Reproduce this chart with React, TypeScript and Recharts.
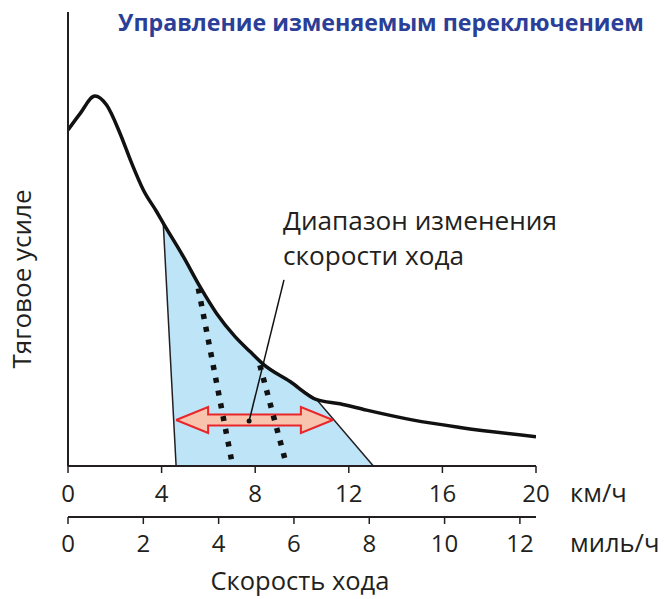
import React from "react";
import {
  ComposedChart,
  Line,
  Area,
  XAxis,
  YAxis,
  ReferenceLine,
  ReferenceDot,
} from "recharts";

// ---- data ----
const KM_TICKS = [0, 4, 8, 12, 16, 20];
const MPH_TICKS = [0, 2, 4, 6, 8, 10, 12];
const KM_PER_MILE = 1.609344;

// traction force curve (speed km/h, force arbitrary units)
const curveX = [0, 0.5, 1.15, 1.65, 2.22, 2.72, 3.22, 3.79, 4.07, 4.93, 5.64, 6.35, 7.14, 7.78, 8.35, 9.49, 10.63, 11.62, 12.76, 14.76, 16.75, 20];
const curveY = [74, 77.5, 81.5, 79.5, 73.3, 66.7, 60.8, 56.0, 53.5, 46.1, 39.5, 33.6, 28.5, 25.2, 22.4, 18.6, 14.6, 13.7, 12.3, 10.1, 8.5, 6.45];

// variable speed range region (polygon vertices, in drawing order)
const regionX = [4.62, 4.07, 4.93, 5.64, 6.35, 7.14, 7.78, 8.35, 9.49, 10.63, 13.05];
const regionY = [0, 53.5, 46.1, 39.5, 33.6, 28.5, 25.2, 22.4, 18.6, 14.6, 0];

// dotted shift lines
const shift1X = [5.57, 7.0];
const shift1Y = [39.1, 1.0];
const shift2X = [8.2, 9.35];
const shift2Y = [22.2, 0];

// range arrow (speed from .. to, at force level)
const arrowFrom = 4.62;
const arrowTo = 11.32;
const arrowLevel = 10.13;

// leader line of annotation
const leaderX = [9.23, 7.74];
const leaderY = [41.0, 9.9];

// second scale (mph) extent
const mphExtent = [0, 20 / KM_PER_MILE];

// ---- layout ----
const W = 664;
const H = 599;
const PLOT_LEFT = 68;
const PLOT_RIGHT = 536;
const PLOT_TOP = 12;
const PLOT_BOTTOM = 466;
const X_MAX = 20;
const Y_MAX = 100;
const PX_PER_X = (PLOT_RIGHT - PLOT_LEFT) / X_MAX;
const PX_PER_Y = (PLOT_BOTTOM - PLOT_TOP) / Y_MAX;

const HEAD_LEN = 32 / PX_PER_X;
const HEAD_HALF = 13 / PX_PER_Y;
const SHAFT_HALF = 5.5 / PX_PER_Y;

const FONT = "'Open Sans', 'Noto Sans', sans-serif";
const INK = "#231f20";

const curveData = curveX.map((x, i) => ({ x, y: curveY[i] }));
const regionData = regionX.map((x, i) => ({ x, y: regionY[i] }));
const shift1Data = shift1X.map((x, i) => ({ x, y: shift1Y[i] }));
const shift2Data = shift2X.map((x, i) => ({ x, y: shift2Y[i] }));
const leaderData = leaderX.map((x, i) => ({ x, y: leaderY[i] }));
const mphData = mphExtent.map((x) => ({ x, y: 0 }));
const arrowData = [
  { x: arrowFrom, r: [arrowLevel, arrowLevel] },
  { x: arrowFrom + HEAD_LEN, r: [arrowLevel - HEAD_HALF, arrowLevel + HEAD_HALF] },
  { x: arrowFrom + HEAD_LEN, r: [arrowLevel - SHAFT_HALF, arrowLevel + SHAFT_HALF] },
  { x: arrowTo - HEAD_LEN, r: [arrowLevel - SHAFT_HALF, arrowLevel + SHAFT_HALF] },
  { x: arrowTo - HEAD_LEN, r: [arrowLevel - HEAD_HALF, arrowLevel + HEAD_HALF] },
  { x: arrowTo, r: [arrowLevel, arrowLevel] },
];

const tickStyle = { fontSize: 24, fill: INK, fontFamily: FONT };

export default function App() {
  return (
    <div style={{ position: "absolute", left: 0, top: 0 }}>
      <ComposedChart
        width={W}
        height={H}
        margin={{ top: PLOT_TOP, right: W - PLOT_RIGHT, left: PLOT_LEFT, bottom: 42 }}
      >
        <XAxis
          xAxisId="km"
          dataKey="x"
          type="number"
          domain={[0, X_MAX]}
          ticks={KM_TICKS}
          allowDataOverflow
          tickSize={7}
          tickMargin={12}
          height={51}
          axisLine={{ stroke: INK, strokeWidth: 2 }}
          tickLine={{ stroke: INK, strokeWidth: 1.5 }}
          tick={tickStyle}
        />
        <XAxis
          xAxisId="mph"
          dataKey="x"
          type="number"
          domain={mphExtent}
          ticks={MPH_TICKS}
          allowDataOverflow
          interval={0}
          tickSize={7}
          tickMargin={11}
          height={40}
          axisLine={{ stroke: INK, strokeWidth: 2 }}
          tickLine={{ stroke: INK, strokeWidth: 1.5 }}
          tick={tickStyle}
        />
        <YAxis hide type="number" domain={[0, Y_MAX]} allowDataOverflow />

        <Line
          xAxisId="mph"
          data={mphData}
          dataKey="y"
          stroke="none"
          dot={false}
          isAnimationActive={false}
        />
        <Area
          xAxisId="km"
          data={regionData}
          dataKey="y"
          type="linear"
          baseValue={0}
          fill="#bde4f7"
          fillOpacity={1}
          stroke={INK}
          strokeWidth={1.5}
          isAnimationActive={false}
        />
        <Line
          xAxisId="km"
          data={shift1Data}
          dataKey="y"
          type="linear"
          stroke="#111"
          strokeWidth={5.5}
          strokeDasharray="5 8"
          dot={false}
          isAnimationActive={false}
        />
        <Line
          xAxisId="km"
          data={shift2Data}
          dataKey="y"
          type="linear"
          stroke="#111"
          strokeWidth={5.5}
          strokeDasharray="5 8"
          dot={false}
          isAnimationActive={false}
        />
        <Line
          xAxisId="km"
          data={curveData}
          dataKey="y"
          type="monotone"
          stroke="#111"
          strokeWidth={3.5}
          dot={false}
          isAnimationActive={false}
        />
        <Area
          xAxisId="km"
          data={arrowData}
          dataKey="r"
          type="linear"
          fill="#f9c4ad"
          fillOpacity={1}
          stroke="#e8262b"
          strokeWidth={2}
          isAnimationActive={false}
        />
        <Line
          xAxisId="km"
          data={leaderData}
          dataKey="y"
          type="linear"
          stroke="#111"
          strokeWidth={1.5}
          dot={false}
          isAnimationActive={false}
        />
        <ReferenceDot
          xAxisId="km"
          x={leaderX[1]}
          y={leaderY[1]}
          r={2.5}
          fill="#111"
          stroke="none"
        />
        <ReferenceLine xAxisId="km" x={0} stroke={INK} strokeWidth={2} />

        <text x={118} y={31} fill="#2b3f98" fontFamily={FONT} fontWeight={700} fontSize={23.2}>
          Управление изменяемым переключением
        </text>
        <text x={283} y={230} fill={INK} fontFamily={FONT} fontSize={26.2}>
          Диапазон изменения
        </text>
        <text x={283} y={265} fill={INK} fontFamily={FONT} fontSize={26.2}>
          скорости хода
        </text>
        <text x={570} y={502} fill={INK} fontFamily={FONT} fontSize={25.5}>
          км/ч
        </text>
        <text x={570} y={552} fill={INK} fontFamily={FONT} fontSize={25.5}>
          миль/ч
        </text>
        <text x={300} y={590} textAnchor="middle" fill={INK} fontFamily={FONT} fontSize={25.5}>
          Скорость хода
        </text>
        <text
          x={31}
          y={279}
          textAnchor="middle"
          transform="rotate(-90 31 279)"
          fill={INK}
          fontFamily={FONT}
          fontSize={26}
        >
          Тяговое усиле
        </text>
      </ComposedChart>
    </div>
  );
}
